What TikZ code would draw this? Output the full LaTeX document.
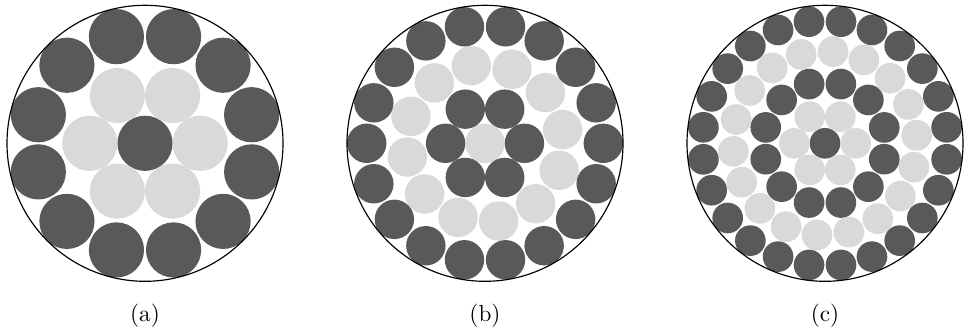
\documentclass[tikz,border=0pt]{standalone}
\usetikzlibrary{positioning}
\definecolor{wire1}{RGB}{89,89,89}
\definecolor{wire2}{RGB}{217,217,217}
\tikzset{
    strand/.style={fill=#1, draw=none},
    jacket/.style={draw=black, line width=0.5pt},
    sublabel/.style={font=\normalsize, anchor=base}
}

\begin{document}
\begin{tikzpicture}[x=0.43pt, y=0.43pt]
    \useasboundingbox (0,0) rectangle (964,330);

    % Cable (a): core + 2 layers
    \begin{scope}[shift={(145,186.7)}]
        \fill[strand=wire1] (0,0) circle[radius=27.6];
        \foreach \k in {0,...,5}
            \fill[strand=wire2] (60*\k:55.2) circle[radius=27.6];
        \foreach \k in {0,...,11}
            \fill[strand=wire1] (15+30*\k:110.4) circle[radius=27.6];
        \draw[jacket] (0,0) circle[radius=138];
    \end{scope}

    % Cable (b): core + 3 layers
    \begin{scope}[shift={(485,186.7)}]
        \fill[strand=wire2] (0,0) circle[radius=19.71];
        \foreach \k in {0,...,5}
            \fill[strand=wire1] (60*\k:39.43) circle[radius=19.71];
        \foreach \k in {0,...,11}
            \fill[strand=wire2] (10+30*\k:78.86) circle[radius=19.71];
        \foreach \k in {0,...,17}
            \fill[strand=wire1] (20*\k:118.29) circle[radius=19.71];
        \draw[jacket] (0,0) circle[radius=138];
    \end{scope}

    % Cable (c): core + 4 layers
    \begin{scope}[shift={(825,186.7)}]
        \fill[strand=wire1] (0,0) circle[radius=15.33];
        \foreach \k in {0,...,5}
            \fill[strand=wire2] (60*\k:30.67) circle[radius=15.33];
        \foreach \k in {0,...,11}
            \fill[strand=wire1] (15+30*\k:61.33) circle[radius=15.33];
        \foreach \k in {0,...,17}
            \fill[strand=wire2] (5+20*\k:92) circle[radius=15.33];
        \foreach \k in {0,...,23}
            \fill[strand=wire1] (7.5+15*\k:122.67) circle[radius=15.33];
        \draw[jacket] (0,0) circle[radius=138];
    \end{scope}

    % Captions
    \node[sublabel] (capA) at (145,9) {(a)};
    \node[sublabel] (capB) at (485,9) {(b)};
    \node[sublabel] (capC) at (825,9) {(c)};
\end{tikzpicture}
\end{document}
